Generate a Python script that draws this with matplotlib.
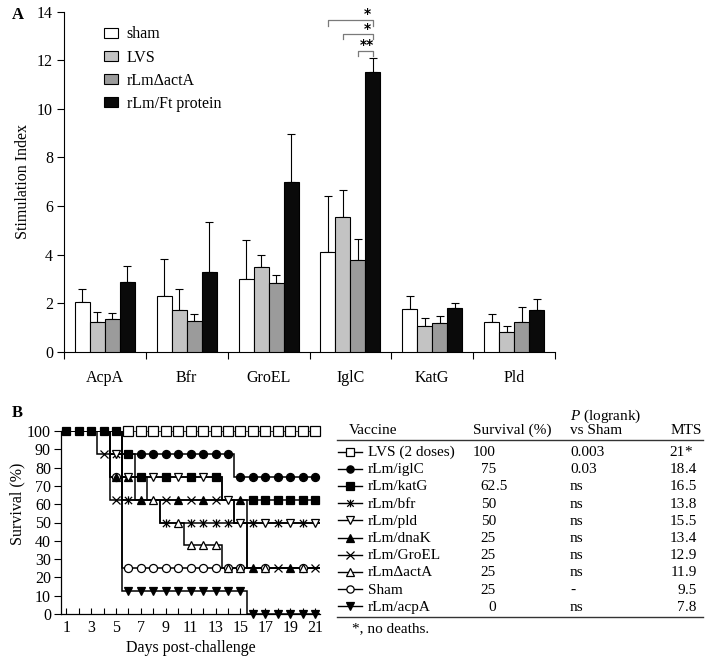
import numpy as np
import matplotlib
matplotlib.use('Agg')
import matplotlib.pyplot as plt
from matplotlib.path import Path
from matplotlib.lines import Line2D

plt.rcParams['font.family'] = ['Liberation Serif', 'DejaVu Serif']
plt.rcParams['mathtext.fontset'] = 'custom'
plt.rcParams['mathtext.rm'] = 'Liberation Serif'
plt.rcParams['mathtext.it'] = 'Liberation Serif:italic'

# ---------------- Panel A data ----------------
antigens = ['AcpA', 'Bfr', 'GroEL', 'IglC', 'KatG', 'Pld']
groups = ['sham', 'LVS', 'rLm\u0394actA', 'rLm/Ft protein']
sham_mean = [2.03, 2.31, 2.99, 4.09, 1.74, 1.24]
sham_err = [0.54, 1.51, 1.61, 2.33, 0.57, 0.30]
lvs_mean = [1.24, 1.70, 3.50, 5.56, 1.07, 0.80]
lvs_err = [0.41, 0.87, 0.49, 1.10, 0.30, 0.27]
acta_mean = [1.33, 1.28, 2.81, 3.76, 1.17, 1.21]
acta_err = [0.25, 0.26, 0.36, 0.88, 0.31, 0.64]
ft_mean = [2.88, 3.29, 7.00, 11.50, 1.78, 1.70]
ft_err = [0.66, 2.04, 1.95, 0.61, 0.24, 0.47]
sig_labels = ['*', '*', '**']

# ---------------- Panel B data ----------------
days = [1, 2, 3, 4, 5, 6, 7, 8, 9, 10, 11, 12, 13, 14, 15, 16, 17, 18, 19, 20, 21]
surv_lvs = [100, 100, 100, 100, 100, 100, 100, 100, 100, 100, 100, 100, 100, 100, 100, 100, 100, 100, 100, 100, 100]
surv_iglc = [100, 100, 100, 100, 100, 87.5, 87.5, 87.5, 87.5, 87.5, 87.5, 87.5, 87.5, 87.5, 75, 75, 75, 75, 75, 75, 75]
surv_katg = [100, 100, 100, 100, 100, 87.5, 75, 75, 75, 75, 75, 75, 75, 62.5, 62.5, 62.5, 62.5, 62.5, 62.5, 62.5, 62.5]
surv_bfr = [100, 100, 100, 100, 87.5, 62.5, 62.5, 62.5, 50, 50, 50, 50, 50, 50, 50, 50, 50, 50, 50, 50, 50]
surv_pld = [100, 100, 100, 100, 87.5, 75, 75, 75, 75, 75, 75, 75, 75, 62.5, 50, 50, 50, 50, 50, 50, 50]
surv_dnak = [100, 100, 100, 100, 75, 75, 62.5, 62.5, 62.5, 62.5, 62.5, 62.5, 62.5, 62.5, 62.5, 25, 25, 25, 25, 25, 25]
surv_groel = [100, 100, 100, 87.5, 62.5, 62.5, 62.5, 62.5, 62.5, 62.5, 62.5, 62.5, 62.5, 62.5, 50, 25, 25, 25, 25, 25, 25]
surv_acta = [100, 100, 100, 100, 87.5, 75, 75, 62.5, 50, 50, 37.5, 37.5, 37.5, 25, 25, 25, 25, 25, 25, 25, 25]
surv_sham = [100, 100, 100, 100, 75, 25, 25, 25, 25, 25, 25, 25, 25, 25, 25, 25, 25, 25, 25, 25, 25]
surv_acpa = [100, 100, 100, 100, 100, 12.5, 12.5, 12.5, 12.5, 12.5, 12.5, 12.5, 12.5, 12.5, 12.5, 0, 0, 0, 0, 0, 0]

# days on which each curve's symbol is visible (others are hidden under overlapping symbols)
shown_lvs = [6, 7, 8, 9, 10, 11, 12, 13, 14, 15, 16, 17, 18, 19, 20, 21]
shown_iglc = [7, 8, 9, 10, 11, 12, 13, 14, 15, 16, 17, 18, 19, 20, 21]
shown_katg = [1, 2, 3, 4, 5, 6, 7, 9, 11, 13, 16, 17, 18, 19, 20, 21]
shown_bfr = [5, 6, 9, 11, 12, 13, 14, 16, 18, 20]
shown_pld = [5, 6, 8, 10, 12, 14, 15, 17, 19, 21]
shown_dnak = [5, 6, 7, 10, 12, 15, 16, 19]
shown_groel = [4, 5, 9, 11, 13, 18, 21]
shown_acta = [8, 10, 11, 12, 13, 14, 15, 17, 20]
shown_sham = [5, 6, 7, 8, 9, 10, 11, 12, 13, 14, 15, 17, 20]
shown_acpa = [6, 7, 8, 9, 10, 11, 12, 13, 14, 15, 16, 17, 18, 19, 20, 21]

vaccines = ['LVS (2 doses)', 'rLm/iglC', 'rLm/katG', 'rLm/bfr', 'rLm/pld', 'rLm/dnaK',
            'rLm/GroEL', 'rLm\u0394actA', 'Sham', 'rLm/acpA']
survival_pct = ['100', '75', '62.5', '50', '50', '25', '25', '25', '25', '0']
p_logrank = ['0.003', '0.03', 'ns', 'ns', 'ns', 'ns', 'ns', 'ns', '-', 'ns']
mts = ['21*', '18.4', '16.5', '13.8', '15.5', '13.4', '12.9', '11.9', '9.5', '7.8']

# ---------------- figure ----------------
W, H = 712, 662
fig = plt.figure(figsize=(W / 100, H / 100), dpi=100)


def fx(x):
    return x / W


def fy(y):
    return 1 - y / H


FS = 11.5

# ---------------- Panel A ----------------
axA = fig.add_axes([fx(64), fy(351.7), fx(555) - fx(64), fy(11.7) - fy(351.7)])
x = np.arange(len(antigens))
w = 0.183
means = [sham_mean, lvs_mean, acta_mean, ft_mean]
errs = [sham_err, lvs_err, acta_err, ft_err]
colors = ['white', '#c3c3c3', '#9b9b9b', '#0a0a0a']
handles = []
for i in range(4):
    xi = x + (i - 1.5) * w
    b = axA.bar(xi, means[i], width=w, color=colors[i], edgecolor='black',
                linewidth=0.8, zorder=3, label=groups[i])
    handles.append(b)
    axA.errorbar(xi, means[i], yerr=[np.zeros(len(x)), errs[i]], fmt='none',
                 ecolor='black', elinewidth=0.8, capsize=3, capthick=0.8, zorder=2)

axA.set_xlim(-0.5, 5.5)
axA.set_ylim(0, 14)
axA.set_yticks(np.arange(0, 15, 2))
axA.spines['top'].set_visible(False)
axA.spines['right'].set_visible(False)
axA.spines['left'].set_linewidth(0.8)
axA.spines['bottom'].set_linewidth(0.8)
axA.set_xticks(np.arange(-0.5, 6.0, 1.0))
axA.set_xticklabels([])
axA.set_xticks(x, minor=True)
axA.set_xticklabels(antigens, minor=True, fontsize=FS)
axA.tick_params(axis='x', which='major', direction='out', length=5, width=0.8)
axA.tick_params(axis='x', which='minor', length=0, pad=13)
axA.tick_params(axis='y', direction='out', length=5, width=0.8, labelsize=FS, pad=3)
axA.set_ylabel('Stimulation Index', fontsize=FS)
axA.yaxis.set_label_coords(-0.068, 0.5)

leg = axA.legend(handles=handles, loc='upper left', bbox_to_anchor=(0.082, 0.957),
                 frameon=False, fontsize=FS, handlelength=0.85, handleheight=0.6,
                 handletextpad=0.55, labelspacing=0.45, borderpad=0, borderaxespad=0)

# significance brackets on IglC
k = 3
x_sham = x[k] - 1.5 * w
x_lvs = x[k] - 0.5 * w
x_acta = x[k] + 0.5 * w
x_ft = x[k] + 1.5 * w
brackets = [(x_sham, 13.65, 13.42), (x_lvs, 13.07, 12.86), (x_acta, 12.38, 12.17)]
star_y = [13.92, 13.30, 12.64]
for (x0, ytop, yleg), lab, sy in zip(brackets, sig_labels, star_y):
    axA.plot([x0, x0, x_ft, x_ft], [yleg, ytop, ytop, yleg], color='#7a7a7a',
             lw=0.9, clip_on=False, zorder=4)
    axA.text((x_acta + x_ft) / 2 + 0.02, sy, lab, ha='center', va='center',
             fontsize=10, fontweight='bold', family='DejaVu Sans')

fig.text(fx(12), fy(15), 'A', fontsize=12, fontweight='bold', ha='left', va='center')

# ---------------- Panel B ----------------
axB = fig.add_axes([fx(60.7), fy(614), fx(320) - fx(60.7), fy(431) - fy(614)])
d = np.array(days)
edges = np.append(d - 0.5, d[-1] + 0.5)

bfr_marker = Path([(-1, -1), (1, 1), (-1, 1), (1, -1), (0, -1.15), (0, 1.15)],
                  [Path.MOVETO, Path.LINETO, Path.MOVETO, Path.LINETO, Path.MOVETO, Path.LINETO])

series = [
    # (values, shown days, marker, facecolor, size)
    (surv_acpa, shown_acpa, 'v', 'black', 6.0),
    (surv_sham, shown_sham, 'o', 'white', 5.8),
    (surv_acta, shown_acta, '^', 'white', 6.0),
    (surv_dnak, shown_dnak, '^', 'black', 6.0),
    (surv_groel, shown_groel, 'x', 'black', 6.0),
    (surv_bfr, shown_bfr, bfr_marker, 'black', 6.0),
    (surv_pld, shown_pld, 'v', 'white', 6.0),
    (surv_katg, shown_katg, 's', 'black', 6.4),
    (surv_iglc, shown_iglc, 'o', 'black', 5.8),
    (surv_lvs, shown_lvs, 's', 'white', 6.6),
]
for vals, shown, mk, fc, ms in series:
    axB.stairs(vals, edges, baseline=None, color='black', lw=1.1, zorder=2)
for z, (vals, shown, mk, fc, ms) in enumerate(series):
    v = np.array(vals)
    idx = [days.index(s) for s in shown]
    axB.plot(d[idx], v[idx], ls='none', marker=mk, ms=ms, mfc=fc, mec='black',
             mew=0.9, zorder=3 + z, clip_on=False)

axB.set_xlim(0.55, 21.4)
axB.set_ylim(0, 100)
axB.set_yticks(np.arange(0, 101, 10))
axB.set_xticks(days)
axB.set_xticklabels([str(dd) if dd % 2 == 1 else '' for dd in days])
axB.spines['top'].set_visible(False)
axB.spines['right'].set_visible(False)
axB.spines['left'].set_linewidth(0.9)
axB.spines['bottom'].set_linewidth(0.9)
axB.tick_params(axis='x', direction='in', length=4, width=0.8, labelsize=FS, pad=4)
axB.tick_params(axis='y', direction='out', length=5, width=0.8, labelsize=FS, pad=2)
axB.set_xlabel('Days post-challenge', fontsize=FS, labelpad=3)
axB.set_ylabel('Survival (%)', fontsize=FS)
axB.yaxis.set_label_coords(-0.135, 0.6)

fig.text(fx(12), fy(413), 'B', fontsize=12, fontweight='bold', ha='left', va='center')

# ---------------- Table ----------------
TS = 11
fig.text(fx(349), fy(434), 'Vaccine', fontsize=TS, ha='left', va='baseline')
fig.text(fx(473), fy(434), 'Survival (%)', fontsize=TS, ha='left', va='baseline')
fig.text(fx(570), fy(420), r'$P$ (logrank)', fontsize=TS, ha='left', va='baseline')
fig.text(fx(570), fy(434), 'vs Sham', fontsize=TS, ha='left', va='baseline')
fig.text(fx(702), fy(434), 'MTS', fontsize=TS, ha='right', va='baseline')
fig.add_artist(Line2D([fx(337), fx(703)], [fy(440), fy(440)], color='#333333', lw=1.0,
                      transform=fig.transFigure))
fig.add_artist(Line2D([fx(337), fx(703)], [fy(617), fy(617)], color='#333333', lw=1.0,
                      transform=fig.transFigure))

legend_order = [9, 8, 7, 5, 6, 3, 4, 2, 1, 0]  # index into series for each table row
for r in range(len(vaccines)):
    yb = 456 + 17.2 * r
    vals, shown, mk, fc, ms = series[legend_order[r]]
    yc = yb - 4.5
    fig.add_artist(Line2D([fx(338), fx(350), fx(362)], [fy(yc)] * 3, color='black', lw=1.0,
                          marker=mk, markevery=[1], ms=ms * 0.9, mfc=fc, mec='black', mew=0.9,
                          transform=fig.transFigure))
    fig.text(fx(368), fy(yb), vaccines[r], fontsize=TS, ha='left', va='baseline')
    # survival, decimal aligned
    s = survival_pct[r]
    ip, _, fp = s.partition('.')
    fig.text(fx(496), fy(yb), ip, fontsize=TS, ha='right', va='baseline')
    if fp:
        fig.text(fx(496), fy(yb), '.' + fp, fontsize=TS, ha='left', va='baseline')
    fig.text(fx(570), fy(yb), p_logrank[r], fontsize=TS, ha='left', va='baseline')
    m = mts[r]
    if '.' in m:
        ip, _, fp = m.partition('.')
        rest = '.' + fp
        fig.text(fx(685), fy(yb), ip, fontsize=TS, ha='right', va='baseline')
        fig.text(fx(685), fy(yb), rest, fontsize=TS, ha='left', va='baseline')
    else:
        fig.text(fx(685), fy(yb), m[:-1], fontsize=TS, ha='right', va='baseline')
        fig.text(fx(684), fy(yb), m[-1], fontsize=TS, ha='left', va='baseline')

fig.text(fx(352), fy(632), '*, no deaths.', fontsize=TS, ha='left', va='baseline')

fig.savefig('out.png', dpi=100)
